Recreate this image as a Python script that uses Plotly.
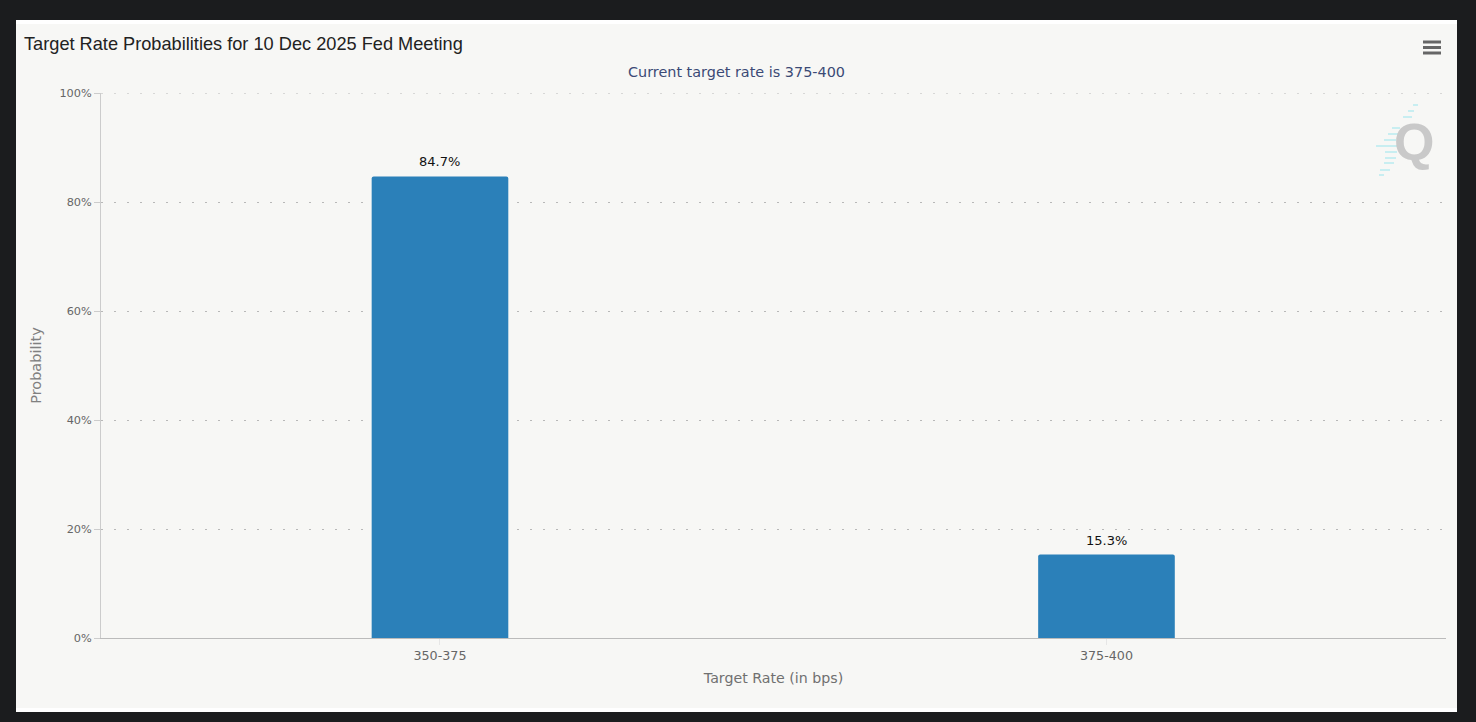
import plotly.graph_objects as go

# Werte
rates = ["350-375", "375-400"]
probabilities = [84.7, 15.3]
y_ticks = [0, 20, 40, 60, 80, 100]
y_tick_labels = ["0%", "20%", "40%", "60%", "80%", "100%"]

title_text = "Target Rate Probabilities for 10 Dec 2025 Fed Meeting"
subtitle_text = "Current target rate is 375-400"

# Plotbereich in Pixeln
left, right, top, bottom = 101, 1446, 93, 638
font_name = "DejaVu Sans"
grid_dots = "2px,11px"
grid_color = "#b8b8b8"


def px_x(x):
    return (x - left) / (right - left)


def px_y(y):
    return (bottom - y) / (bottom - top)


def rect(x0, y0, x1, y1, color):
    return dict(type="rect", xref="paper", yref="paper", layer="below",
                x0=px_x(x0), x1=px_x(x1), y0=px_y(y0), y1=px_y(y1),
                fillcolor=color, line_width=0)


def dash(x0, x1, y, color, width=2):
    return dict(type="line", xref="paper", yref="paper", layer="below",
                x0=px_x(x0), x1=px_x(x1), y0=px_y(y), y1=px_y(y),
                line=dict(color=color, width=width))


fig = go.Figure(go.Bar(
    x=rates,
    y=probabilities,
    width=0.205,
    marker=dict(color="#2b80b9", cornerradius=2, line_width=0),
))

# Karte, Menü-Symbol und Logo
shapes = [rect(16, 20, 1457, 712, "#ffffff"), rect(16, 24, 1457, 708, "#f7f7f5")]
for y in [42, 47.5, 53]:
    shapes.append(dash(1423, 1441, y, "#666666", 3))
logo_dashes = [(1413, 1418, 105), (1408, 1414, 111), (1403, 1412, 117), (1392, 1400, 128),
               (1388, 1398, 134), (1384, 1396, 140), (1376, 1397, 146), (1385, 1397, 152),
               (1385, 1396, 158), (1384, 1394, 163), (1380, 1390, 170), (1379, 1384, 175)]
for x0, x1, y in logo_dashes:
    shapes.append(dash(x0, x1, y, "#c8eef1", 2))

# Plotly lässt die oberste Gitterlinie am Rand weg, deshalb extra
shapes.append(dict(type="line", xref="paper", yref="y", layer="below", x0=0, x1=1,
                   y0=y_ticks[-1], y1=y_ticks[-1],
                   line=dict(color=grid_color, width=1, dash=grid_dots)))

annotations = [
    dict(text=title_text, xref="paper", yref="paper", x=px_x(22), y=px_y(44),
         xanchor="left", yanchor="middle",
         font=dict(family="Liberation Sans", size=18.2, color="#222222")),
    dict(text=subtitle_text, xref="paper", yref="paper", x=px_x(736), y=px_y(72),
         xanchor="center", yanchor="middle",
         font=dict(family=font_name, size=14.4, color="#3b4a75")),
    dict(text="<b>Q</b>", xref="paper", yref="paper", x=px_x(1413.5), y=px_y(142),
         xanchor="center", yanchor="middle",
         font=dict(family="Liberation Sans", size=52, color="#c9c9c9")),
]
# Beschriftung über den Balken
for rate, value in zip(rates, probabilities):
    annotations.append(dict(text=f"{value:.1f}%", x=rate, y=value, xref="x", yref="y",
                            xanchor="center", yanchor="bottom", yshift=5,
                            font=dict(family=font_name, size=13, color="#111111")))
for a in annotations:
    a.update(showarrow=False)

fig.update_layout(
    width=1476,
    height=722,
    margin=dict(l=left, r=1476 - right, t=top, b=722 - bottom, pad=0),
    paper_bgcolor="#1b1c1e",
    plot_bgcolor="rgba(0,0,0,0)",
    showlegend=False,
    shapes=shapes,
    annotations=annotations,
    font=dict(family=font_name, size=12, color="#666666"),
)
fig.update_xaxes(
    type="category",
    range=[-0.5086, 1.5094],
    showgrid=False,
    showline=True,
    linecolor="#bbbbbb",
    linewidth=1,
    ticks="outside",
    ticklen=6,
    tickcolor="#e6e6e6",
    tickfont=dict(size=12.7, color="#666666"),
    title=dict(text="Target Rate (in bps)", font=dict(size=14.2, color="#707070"), standoff=10),
)
fig.update_yaxes(
    range=[0, 100],
    tickvals=y_ticks,
    ticktext=y_tick_labels,
    showgrid=True,
    gridcolor=grid_color,
    griddash=grid_dots,
    gridwidth=1,
    zeroline=False,
    showline=True,
    linecolor="#cccccc",
    linewidth=1,
    ticks="outside",
    ticklen=6,
    tickcolor="#cccccc",
    tickfont=dict(size=11.3, color="#666666"),
    title=dict(text="Probability", font=dict(size=14.5, color="#808080"), standoff=14),
)

# Browser-Rand entfernen, damit die Pixel passen
fig.write_html(
    "out.html",
    config={"displayModeBar": False},
    post_script="document.body.style.margin='0';document.body.style.background='#1b1c1e';",
)
